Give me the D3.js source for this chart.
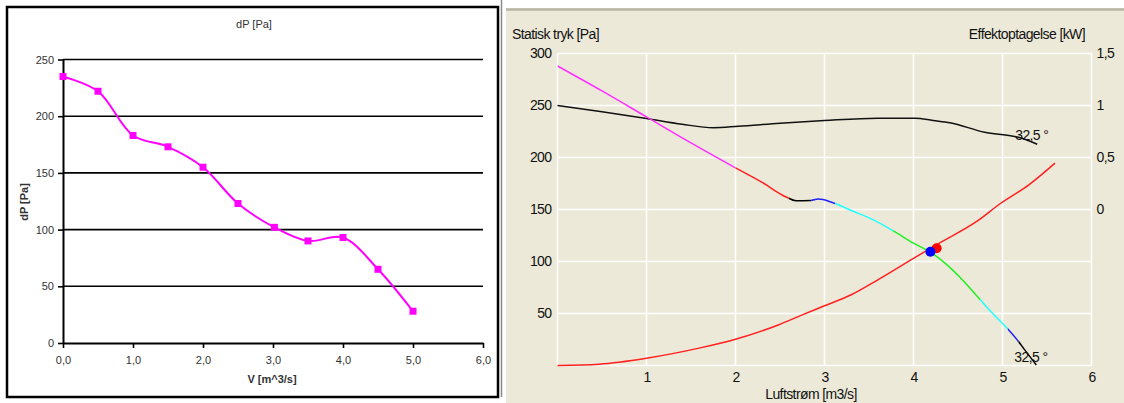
<!DOCTYPE html>
<html>
  <head>
    <meta charset="utf-8">
    <title>Fan curves</title>
    <style type="text/css">
      body { margin: 0; background: #fff; }
      svg { display: block; }
      .lt text { font-family: "Liberation Sans", Arial, sans-serif; font-size: 11px; fill: #333; }
      .rt text { font-family: "Liberation Sans", Arial, sans-serif; font-size: 14px; letter-spacing: -0.6px; fill: #111; }
    </style>
  </head>
  <body>
    <div id="chart"></div>
    <script src="https://d3js.org/d3.v7.min.js"></script>
    <script>

    // ---- left chart: measured pressure ----
    var flowMeas = [0, 0.5, 1, 1.5, 2, 2.5, 3.02, 3.5, 4, 4.5, 5];
    var dpMeas = [235, 222, 183, 173, 155, 123, 102, 90, 93, 65, 28];
    var flowTicksL = [0, 1, 2, 3, 4, 5, 6];
    var dpTicksL = [0, 50, 100, 150, 200, 250];

    // ---- right chart: fan curve, system curve, power ----
    var fanFlow = [0, 0.5, 1, 1.5, 2, 2.3, 2.57, 2.68, 2.84, 2.93, 3.08, 3.3, 3.55, 3.82, 4.0, 4.19, 4.36, 4.52, 4.67, 4.89, 5.06, 5.18, 5.25, 5.38];
    var fanPa = [288, 264, 239, 214, 190, 176, 162, 158.5, 158.7, 160, 157, 149, 140, 127, 117.6, 109, 98, 85, 71, 50, 35, 23, 15, 0.5];
    var zoneEnds = [2.0, 2.6, 2.85, 3.12, 3.77, 4.75, 5.06, 5.18, 5.45];
    var zoneColors = ["#ff30ff", "#ff2020", "#000000", "#2020ff", "#20ffff", "#20f020", "#20ffff", "#2020ff", "#000000"];

    var sysFlow = [0, 0.47, 1.0, 1.59, 2.0, 2.48, 2.75, 3.0, 3.3, 3.6, 4.0, 4.27, 4.71, 4.98, 5.3, 5.59];
    var sysPa = [0, 1.3, 7, 16.7, 25.3, 39, 48.7, 57.4, 68, 82.4, 103, 116.7, 138.5, 156, 174, 194.6];

    var powFlow = [0, 0.5, 1.0, 1.4, 1.75, 2.03, 2.5, 3.0, 3.6, 4.02, 4.22, 4.41, 4.8, 5.12, 5.2, 5.39];
    var powKw = [1.0, 0.94, 0.875, 0.82, 0.786, 0.8, 0.83, 0.856, 0.878, 0.878, 0.856, 0.835, 0.743, 0.705, 0.69, 0.627];

    var opFan = [4.19, 109.4];
    var opSys = [4.26, 112.7];
    var curveLabel = "32,5 °";

    var paTicks = [50, 100, 150, 200, 250, 300];
    var kwTicks = [0, 0.5, 1, 1.5];
    var flowTicksR = [1, 2, 3, 4, 5, 6];

    var svg = d3.select("#chart").append("svg")
      .attr("width", 1124)
      .attr("height", 403);

    // ===== left chart =====
    var L = svg.append("g").attr("class", "lt");

    L.append("rect")
      .attr("x", 7).attr("y", 7).attr("width", 491).attr("height", 390)
      .attr("fill", "#fff").attr("stroke", "#000").attr("stroke-width", 2.5);

    var xL = d3.scaleLinear().domain([0, 6]).range([63, 483]);
    var yL = d3.scaleLinear().domain([0, 250]).range([343, 59.5]);

    L.selectAll("line.grid")
      .data(dpTicksL.slice(1))
      .enter().append("line")
      .attr("class", "grid")
      .attr("x1", xL(0)).attr("x2", xL(6))
      .attr("y1", function(d) { return yL(d); })
      .attr("y2", function(d) { return yL(d); })
      .attr("stroke", "#000").attr("stroke-width", 1.6);

    var axL = L.append("g")
      .attr("transform", "translate(" + xL(0) + ",0)")
      .call(d3.axisLeft(yL).tickValues(dpTicksL).tickSize(5).tickSizeOuter(0).tickPadding(4));
    var axB = L.append("g")
      .attr("transform", "translate(0," + yL(0) + ")")
      .call(d3.axisBottom(xL).tickValues(flowTicksL).tickSize(5).tickSizeOuter(0).tickPadding(8)
        .tickFormat(function(d) { return d3.format(".1f")(d).replace(".", ","); }));
    [axL, axB].forEach(function(a) {
      a.select(".domain").attr("stroke", "#000").attr("stroke-width", 2);
      a.selectAll(".tick line").attr("stroke", "#000").attr("stroke-width", 1.6);
      a.selectAll("text").attr("font-size", 11).attr("fill", "#333").attr("font-family", "Liberation Sans, Arial, sans-serif");
    });

    var measLine = d3.line()
      .x(function(d, i) { return xL(flowMeas[i]); })
      .y(function(d, i) { return yL(dpMeas[i]); })
      .curve(d3.curveCatmullRom.alpha(0.5));

    L.append("path")
      .attr("d", measLine(dpMeas))
      .attr("fill", "none").attr("stroke", "#ff00ff").attr("stroke-width", 2);

    L.selectAll("rect.mk")
      .data(dpMeas)
      .enter().append("rect")
      .attr("class", "mk")
      .attr("x", function(d, i) { return xL(flowMeas[i]) - 3.5; })
      .attr("y", function(d) { return yL(d) - 3.5; })
      .attr("width", 7).attr("height", 7)
      .attr("fill", "#ff00ff");

    L.append("text").attr("x", 254).attr("y", 27.5).attr("text-anchor", "middle").text("dP [Pa]");
    L.append("text").attr("x", 272).attr("y", 383).attr("text-anchor", "middle")
      .attr("font-weight", "bold").text("V [m^3/s]");
    L.append("text").attr("transform", "translate(28,202) rotate(-90)").attr("text-anchor", "middle")
      .attr("font-weight", "bold").text("dP [Pa]");

    // ===== right chart =====
    svg.append("line").attr("x1", 501.5).attr("x2", 501.5).attr("y1", 0).attr("y2", 397)
      .attr("stroke", "#8a8a8a").attr("stroke-width", 1.5);

    var R = svg.append("g").attr("class", "rt");
    R.append("rect").attr("x", 506).attr("y", 8).attr("width", 618).attr("height", 395).attr("fill", "#ece9d8");
    R.append("line").attr("x1", 506).attr("x2", 1124).attr("y1", 9.5).attr("y2", 9.5)
      .attr("stroke", "#b8b5a6").attr("stroke-width", 2.5);

    var xR = d3.scaleLinear().domain([0, 6]).range([557.5, 1091.5]);
    var yR = d3.scaleLinear().domain([0, 300]).range([365.5, 53.5]);
    var yK = d3.scaleLinear().domain([-1.5, 1.5]).range([365.5, 53.5]);

    R.selectAll("line.hg")
      .data([0].concat(paTicks))
      .enter().append("line")
      .attr("x1", xR(0)).attr("x2", xR(6))
      .attr("y1", function(d) { return yR(d); })
      .attr("y2", function(d) { return yR(d); })
      .attr("stroke", "#fff").attr("stroke-width", 1.5);
    R.selectAll("line.vg")
      .data([0].concat(flowTicksR))
      .enter().append("line")
      .attr("y1", yR(0)).attr("y2", yR(300))
      .attr("x1", function(d) { return xR(d); })
      .attr("x2", function(d) { return xR(d); })
      .attr("stroke", "#fff").attr("stroke-width", 1.5);

    var ax1 = R.append("g").attr("transform", "translate(" + xR(0) + ",0)")
      .call(d3.axisLeft(yR).tickValues(paTicks).tickSize(0).tickPadding(6));
    var ax2 = R.append("g").attr("transform", "translate(" + xR(6) + ",0)")
      .call(d3.axisRight(yK).tickValues(kwTicks).tickSize(0).tickPadding(5)
        .tickFormat(function(d) { return String(d).replace(".", ","); }));
    var ax3 = R.append("g").attr("transform", "translate(0," + yR(0) + ")")
      .call(d3.axisBottom(xR).tickValues(flowTicksR).tickSize(0).tickPadding(7).tickFormat(d3.format("d")));
    [ax1, ax2, ax3].forEach(function(a) {
      a.select(".domain").remove();
      a.selectAll("text").attr("font-size", 14).attr("fill", "#111")
        .attr("font-family", "Liberation Sans, Arial, sans-serif");
    });

    // system curve
    var sysLine = d3.line()
      .x(function(d, i) { return xR(sysFlow[i]); })
      .y(function(d) { return yR(d); })
      .curve(d3.curveMonotoneX);
    R.append("path").attr("d", sysLine(sysPa))
      .attr("fill", "none").attr("stroke", "#ff2020").attr("stroke-width", 1.5);

    // power curve
    var powLine = d3.line()
      .x(function(d, i) { return xR(powFlow[i]); })
      .y(function(d) { return yK(d); })
      .curve(d3.curveMonotoneX);
    R.append("path").attr("d", powLine(powKw))
      .attr("fill", "none").attr("stroke", "#111").attr("stroke-width", 1.5);

    // fan curve, coloured by zone
    var fanLine = d3.line()
      .x(function(d, i) { return xR(fanFlow[i]); })
      .y(function(d) { return yR(d); })
      .curve(d3.curveMonotoneX);
    var defs = svg.append("defs");
    zoneEnds.forEach(function(end, i) {
      var start = i === 0 ? 0 : zoneEnds[i - 1];
      defs.append("clipPath").attr("id", "zone" + i)
        .append("rect")
        .attr("x", xR(start)).attr("y", 0)
        .attr("width", xR(end) - xR(start)).attr("height", 403);
      R.append("path").attr("d", fanLine(fanPa))
        .attr("clip-path", "url(#zone" + i + ")")
        .attr("fill", "none").attr("stroke", zoneColors[i]).attr("stroke-width", 1.5);
    });

    // operating points
    R.append("circle").attr("cx", xR(opSys[0])).attr("cy", yR(opSys[1])).attr("r", 5).attr("fill", "#ff0000");
    R.append("circle").attr("cx", xR(opFan[0])).attr("cy", yR(opFan[1])).attr("r", 5).attr("fill", "#0000ff");

    // blade angle labels at curve ends
    R.append("text").attr("x", xR(powFlow[powFlow.length - 1]) - 22).attr("y", yK(powKw[powKw.length - 1]) - 4)
      .text(curveLabel);
    R.append("text").attr("x", xR(fanFlow[fanFlow.length - 1]) - 22).attr("y", yR(fanPa[fanPa.length - 1]) - 3)
      .text(curveLabel);

    R.append("text").attr("x", 512).attr("y", 39).text("Statisk tryk [Pa]");
    R.append("text").attr("x", 1085).attr("y", 39).attr("text-anchor", "end").text("Effektoptagelse [kW]");
    R.append("text").attr("x", 811).attr("y", 399).attr("text-anchor", "middle").text("Luftstrøm [m3/s]");

    </script>
  </body>
</html>
